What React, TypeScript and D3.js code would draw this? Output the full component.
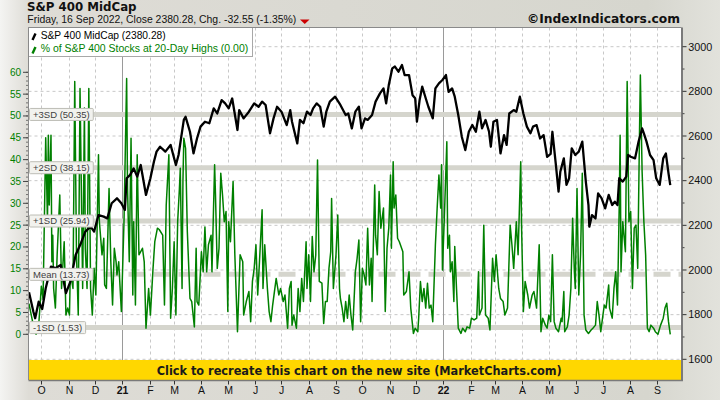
import React, { useEffect } from "react";
import * as d3 from "d3";

// S&P 400 MidCap close
const midcapClose: [string, number][] = [
  ["2020-09-17", 1900], ["2020-09-22", 1813], ["2020-09-24", 1784], ["2020-09-28", 1858], ["2020-10-02", 1825],
  ["2020-10-06", 1918], ["2020-10-12", 2015], ["2020-10-17", 2008], ["2020-10-23", 2022], ["2020-10-29", 1896],
  ["2020-11-03", 1948], ["2020-11-09", 2067], ["2020-11-15", 2120], ["2020-11-20", 2172], ["2020-11-26", 2194],
  ["2020-11-30", 2172], ["2020-12-05", 2246], ["2020-12-11", 2239], ["2020-12-15", 2231], ["2020-12-20", 2299],
  ["2020-12-26", 2321], ["2020-12-31", 2299], ["2021-01-04", 2269], ["2021-01-06", 2411], ["2021-01-10", 2426],
  ["2021-01-14", 2455], ["2021-01-18", 2418], ["2021-01-22", 2470], ["2021-01-28", 2336], ["2021-02-02", 2411],
  ["2021-02-06", 2485], ["2021-02-09", 2530], ["2021-02-13", 2552], ["2021-02-19", 2530], ["2021-02-25", 2560],
  ["2021-02-28", 2515], ["2021-03-03", 2470], ["2021-03-06", 2515], ["2021-03-12", 2672], ["2021-03-14", 2686],
  ["2021-03-19", 2619], ["2021-03-23", 2522], ["2021-03-27", 2589], ["2021-03-31", 2642], ["2021-04-05", 2664],
  ["2021-04-10", 2657], ["2021-04-15", 2724], ["2021-04-19", 2701], ["2021-04-24", 2761], ["2021-04-28", 2746],
  ["2021-05-02", 2724], ["2021-05-06", 2768], ["2021-05-12", 2627], ["2021-05-14", 2716], ["2021-05-19", 2679],
  ["2021-05-25", 2709], ["2021-05-31", 2746], ["2021-06-05", 2731], ["2021-06-09", 2754], ["2021-06-13", 2739],
  ["2021-06-18", 2612], ["2021-06-22", 2679], ["2021-06-26", 2731], ["2021-07-01", 2709], ["2021-07-07", 2649],
  ["2021-07-11", 2716], ["2021-07-13", 2664], ["2021-07-19", 2567], ["2021-07-22", 2672], ["2021-07-26", 2657],
  ["2021-07-30", 2709], ["2021-08-03", 2694], ["2021-08-06", 2724], ["2021-08-10", 2746], ["2021-08-14", 2731],
  ["2021-08-18", 2642], ["2021-08-21", 2709], ["2021-08-25", 2754], ["2021-08-31", 2776], ["2021-09-06", 2739],
  ["2021-09-12", 2694], ["2021-09-15", 2701], ["2021-09-19", 2634], ["2021-09-23", 2709], ["2021-09-27", 2731],
  ["2021-09-30", 2634], ["2021-10-04", 2679], ["2021-10-07", 2672], ["2021-10-12", 2694], ["2021-10-16", 2754],
  ["2021-10-21", 2791], ["2021-10-25", 2813], ["2021-10-28", 2746], ["2021-10-31", 2828], ["2021-11-04", 2903],
  ["2021-11-07", 2911], ["2021-11-11", 2888], ["2021-11-15", 2918], ["2021-11-18", 2873], ["2021-11-23", 2873],
  ["2021-11-27", 2783], ["2021-11-30", 2769], ["2021-12-02", 2664], ["2021-12-05", 2760], ["2021-12-08", 2821],
  ["2021-12-12", 2769], ["2021-12-15", 2731], ["2021-12-20", 2679], ["2021-12-23", 2813], ["2021-12-27", 2836],
  ["2021-12-31", 2851], ["2022-01-04", 2873], ["2022-01-07", 2798], ["2022-01-11", 2813], ["2022-01-14", 2776],
  ["2022-01-18", 2694], ["2022-01-22", 2597], ["2022-01-26", 2537], ["2022-01-30", 2619], ["2022-02-03", 2649],
  ["2022-02-07", 2619], ["2022-02-11", 2709], ["2022-02-14", 2634], ["2022-02-18", 2672], ["2022-02-22", 2619],
  ["2022-02-24", 2552], ["2022-02-27", 2664], ["2022-03-03", 2672], ["2022-03-07", 2522], ["2022-03-11", 2604],
  ["2022-03-14", 2560], ["2022-03-17", 2701], ["2022-03-22", 2716], ["2022-03-25", 2709], ["2022-03-29", 2776],
  ["2022-04-02", 2701], ["2022-04-06", 2642], ["2022-04-10", 2612], ["2022-04-13", 2642], ["2022-04-17", 2649],
  ["2022-04-21", 2589], ["2022-04-25", 2604], ["2022-04-29", 2507], ["2022-05-03", 2520], ["2022-05-05", 2619],
  ["2022-05-09", 2470], ["2022-05-12", 2351], ["2022-05-14", 2440], ["2022-05-18", 2500], ["2022-05-21", 2381],
  ["2022-05-24", 2411], ["2022-05-27", 2545], ["2022-05-31", 2515], ["2022-06-04", 2530], ["2022-06-08", 2575],
  ["2022-06-12", 2396], ["2022-06-15", 2291], ["2022-06-16", 2194], ["2022-06-19", 2246], ["2022-06-23", 2231],
  ["2022-06-26", 2343], ["2022-06-30", 2321], ["2022-07-04", 2276], ["2022-07-08", 2336], ["2022-07-12", 2291],
  ["2022-07-15", 2306], ["2022-07-18", 2291], ["2022-07-20", 2411], ["2022-07-24", 2396], ["2022-07-28", 2418],
  ["2022-07-30", 2515], ["2022-08-02", 2507], ["2022-08-07", 2500], ["2022-08-11", 2575], ["2022-08-15", 2634],
  ["2022-08-17", 2612], ["2022-08-20", 2575], ["2022-08-24", 2515], ["2022-08-28", 2492], ["2022-08-31", 2411],
  ["2022-09-04", 2381], ["2022-09-08", 2500], ["2022-09-11", 2522], ["2022-09-14", 2433], ["2022-09-16", 2380.28],
];

// % of S&P 400 stocks at 20-day highs
const pctAt20DayHighs: [string, number][] = [
  ["2020-09-17", 7], ["2020-09-20", 4], ["2020-09-23", 1], ["2020-09-25", 0], ["2020-09-28", 2], ["2020-10-01", 11],
  ["2020-10-03", 8], ["2020-10-06", 45], ["2020-10-08", 25.8], ["2020-10-09", 45.6], ["2020-10-10", 29.6],
  ["2020-10-12", 45.6], ["2020-10-13", 16.6], ["2020-10-14", 22.7], ["2020-10-15", 10.5], ["2020-10-17", 6],
  ["2020-10-19", 18.2], ["2020-10-22", 31.9], ["2020-10-24", 10.5], ["2020-10-27", 21.2], ["2020-10-29", 4.4],
  ["2020-10-31", 6], ["2020-11-02", 4.4], ["2020-11-03", 14.3], ["2020-11-06", 10.5], ["2020-11-08", 57.9],
  ["2020-11-10", 18.2], ["2020-11-12", 4.4], ["2020-11-14", 56.3], ["2020-11-16", 25.8], ["2020-11-17", 10.5],
  ["2020-11-19", 51.8], ["2020-11-20", 19.7], ["2020-11-22", 10.5], ["2020-11-24", 56.3], ["2020-11-26", 10.5],
  ["2020-11-28", 4.4], ["2020-11-30", 15.1], ["2020-12-02", 9], ["2020-12-05", 41.1], ["2020-12-06", 25.8],
  ["2020-12-09", 18.2], ["2020-12-11", 22], ["2020-12-12", 11.3], ["2020-12-14", 10.5], ["2020-12-17", 33.4],
  ["2020-12-19", 16.6], ["2020-12-21", 6.7], ["2020-12-23", 19.7], ["2020-12-25", 16.6], ["2020-12-26", 13.6],
  ["2020-12-28", 16.6], ["2020-12-31", 5.2], ["2021-01-03", 25.8], ["2021-01-06", 58.6], ["2021-01-07", 33.4],
  ["2021-01-09", 16.6], ["2021-01-11", 44.9], ["2021-01-13", 9], ["2021-01-14", 25.8], ["2021-01-16", 6.7],
  ["2021-01-18", 41.1], ["2021-01-20", 18.2], ["2021-01-24", 19.7], ["2021-01-26", 16.6], ["2021-01-28", 1.4],
  ["2021-01-31", 10.5], ["2021-02-02", 4.4], ["2021-02-05", 15.1], ["2021-02-07", 21.2], ["2021-02-10", 24.3],
  ["2021-02-12", 24], ["2021-02-16", 22.7], ["2021-02-18", 6.7], ["2021-02-20", 29.6], ["2021-02-23", 41.1],
  ["2021-02-25", 3.7], ["2021-02-27", 10.5], ["2021-03-01", 21.2], ["2021-03-03", 4.4], ["2021-03-05", 25.8],
  ["2021-03-07", 33.4], ["2021-03-08", 38], ["2021-03-10", 10.5], ["2021-03-11", 35], ["2021-03-12", 44.9],
  ["2021-03-14", 42.6], ["2021-03-16", 23.5], ["2021-03-19", 8.2], ["2021-03-21", 7.5], ["2021-03-24", 1.7],
  ["2021-03-26", 19.7], ["2021-03-27", 7.5], ["2021-03-29", 6.7], ["2021-04-01", 18.9], ["2021-04-03", 14.3],
  ["2021-04-05", 24.6], ["2021-04-07", 14.3], ["2021-04-09", 20.5], ["2021-04-12", 22.7], ["2021-04-13", 14.3],
  ["2021-04-16", 38.8], ["2021-04-17", 31.9], ["2021-04-19", 15.1], ["2021-04-21", 19.7], ["2021-04-23", 36.9],
  ["2021-04-25", 31.9], ["2021-04-27", 25.8], ["2021-04-29", 28.1], ["2021-05-01", 5.2], ["2021-05-02", 25.8],
  ["2021-05-04", 21.2], ["2021-05-07", 35], ["2021-05-09", 18.2], ["2021-05-12", 0.6], ["2021-05-15", 18.2],
  ["2021-05-18", 16.6], ["2021-05-19", 4.4], ["2021-05-22", 7.5], ["2021-05-25", 9.8], ["2021-05-27", 2.9],
  ["2021-05-29", 12.1], ["2021-05-31", 15.1], ["2021-06-02", 20.5], ["2021-06-04", 9], ["2021-06-06", 16.6],
  ["2021-06-09", 28.5], ["2021-06-10", 10.5], ["2021-06-12", 20.5], ["2021-06-15", 10.5], ["2021-06-17", 5.2],
  ["2021-06-19", 2.9], ["2021-06-21", 6.7], ["2021-06-25", 12.8], ["2021-06-28", 9], ["2021-06-30", 10.5],
  ["2021-07-03", 7.5], ["2021-07-05", 9], ["2021-07-08", 1.4], ["2021-07-10", 10.5], ["2021-07-12", 12.1],
  ["2021-07-13", 2.1], ["2021-07-15", 4.4], ["2021-07-18", 1.4], ["2021-07-20", 10.5], ["2021-07-22", 5.2],
  ["2021-07-24", 12.8], ["2021-07-26", 7.5], ["2021-07-29", 21.2], ["2021-07-30", 10.5], ["2021-08-01", 18.2],
  ["2021-08-03", 7.5], ["2021-08-05", 22.4], ["2021-08-07", 14.3], ["2021-08-09", 18.2], ["2021-08-11", 39.9],
  ["2021-08-13", 12.1], ["2021-08-16", 11.7], ["2021-08-18", 2.5], ["2021-08-20", 7.5], ["2021-08-22", 7.5],
  ["2021-08-24", 15.1], ["2021-08-26", 18.9], ["2021-08-27", 31.1], ["2021-08-29", 10.5], ["2021-09-01", 18.2],
  ["2021-09-03", 27.3], ["2021-09-05", 10.5], ["2021-09-06", 8.2], ["2021-09-08", 6], ["2021-09-10", 2.9],
  ["2021-09-12", 7.5], ["2021-09-14", 3.7], ["2021-09-16", 9], ["2021-09-18", 4.4], ["2021-09-20", 1],
  ["2021-09-23", 14.3], ["2021-09-25", 17.4], ["2021-09-27", 21.6], ["2021-09-29", 2.9], ["2021-10-01", 15.1],
  ["2021-10-03", 13.6], ["2021-10-05", 11.3], ["2021-10-07", 24.3], ["2021-10-09", 11.3], ["2021-10-11", 17.4],
  ["2021-10-12", 7.5], ["2021-10-15", 34.2], ["2021-10-16", 22.7], ["2021-10-18", 18.2], ["2021-10-20", 32.7],
  ["2021-10-22", 24.3], ["2021-10-25", 28.9], ["2021-10-27", 5.2], ["2021-10-29", 19.7], ["2021-10-31", 24.3],
  ["2021-11-02", 36.5], ["2021-11-03", 19.7], ["2021-11-05", 39.5], ["2021-11-06", 28.9], ["2021-11-08", 31.9],
  ["2021-11-10", 22], ["2021-11-12", 21.2], ["2021-11-16", 18.9], ["2021-11-17", 9], ["2021-11-20", 9.8],
  ["2021-11-23", 14.3], ["2021-11-25", 6], ["2021-11-28", 0.2], ["2021-11-30", 1.4], ["2021-12-03", 0.6],
  ["2021-12-04", 3.7], ["2021-12-06", 12.1], ["2021-12-08", 7.5], ["2021-12-10", 10.5], ["2021-12-12", 6],
  ["2021-12-14", 11.7], ["2021-12-16", 6], ["2021-12-18", 6.7], ["2021-12-20", 2.9], ["2021-12-23", 20.5],
  ["2021-12-25", 28.9], ["2021-12-27", 36.5], ["2021-12-29", 28.9], ["2021-12-30", 38.8], ["2021-12-31", 14.7],
  ["2022-01-02", 25.8], ["2022-01-05", 44.1], ["2022-01-06", 19.7], ["2022-01-08", 22.7], ["2022-01-09", 14.3],
  ["2022-01-11", 16.6], ["2022-01-13", 7.5], ["2022-01-14", 20.1], ["2022-01-16", 10.5], ["2022-01-18", 1.4],
  ["2022-01-21", 0.2], ["2022-01-23", 1.4], ["2022-01-26", 0.6], ["2022-01-28", 1.7], ["2022-01-31", 1.4],
  ["2022-02-02", 3.7], ["2022-02-05", 3.3], ["2022-02-08", 3.7], ["2022-02-10", 14.3], ["2022-02-11", 4.4],
  ["2022-02-14", 6], ["2022-02-16", 25], ["2022-02-18", 4.4], ["2022-02-21", 3.7], ["2022-02-23", 1],
  ["2022-02-26", 17.4], ["2022-02-28", 12.1], ["2022-03-02", 18.2], ["2022-03-05", 10.5], ["2022-03-07", 8.2],
  ["2022-03-10", 7.5], ["2022-03-12", 4.4], ["2022-03-15", 6], ["2022-03-18", 25], ["2022-03-20", 20.5],
  ["2022-03-22", 15.1], ["2022-03-25", 25.8], ["2022-03-27", 18.2], ["2022-03-30", 39.5], ["2022-03-31", 24.3],
  ["2022-04-02", 5.2], ["2022-04-04", 12.1], ["2022-04-07", 9], ["2022-04-09", 6], ["2022-04-12", 9],
  ["2022-04-14", 9.8], ["2022-04-17", 6], ["2022-04-20", 20.5], ["2022-04-22", 0.6], ["2022-04-24", 3.7],
  ["2022-04-27", 2.1], ["2022-04-29", 1.4], ["2022-05-01", 4.4], ["2022-05-03", 2.9], ["2022-05-05", 18.2],
  ["2022-05-07", 2.9], ["2022-05-09", 1.4], ["2022-05-12", 0.6], ["2022-05-15", 3.7], ["2022-05-16", 2.9],
  ["2022-05-18", 9.8], ["2022-05-19", 0.6], ["2022-05-22", 1.7], ["2022-05-24", 4.4], ["2022-05-26", 10.5],
  ["2022-05-28", 26.6], ["2022-05-30", 14.3], ["2022-05-31", 10.5], ["2022-06-02", 33.4], ["2022-06-04", 9],
  ["2022-06-06", 18.2], ["2022-06-08", 36.9], ["2022-06-10", 4.4], ["2022-06-12", 1], ["2022-06-15", 0.2],
  ["2022-06-18", 1], ["2022-06-20", 1.4], ["2022-06-23", 2.1], ["2022-06-25", 7.5], ["2022-06-27", 4.4],
  ["2022-06-29", 0.6], ["2022-07-01", 3.7], ["2022-07-03", 6.7], ["2022-07-05", 6], ["2022-07-08", 11.3],
  ["2022-07-09", 6], ["2022-07-12", 3.7], ["2022-07-14", 10.5], ["2022-07-16", 14.3], ["2022-07-18", 6.7],
  ["2022-07-20", 29.6], ["2022-07-21", 45.6], ["2022-07-22", 14.3], ["2022-07-24", 25.8], ["2022-07-27", 18.9],
  ["2022-07-29", 57.9], ["2022-07-31", 25.8], ["2022-08-02", 28.1], ["2022-08-04", 10.5], ["2022-08-06", 24.3],
  ["2022-08-08", 25], ["2022-08-10", 15.1], ["2022-08-12", 45.6], ["2022-08-13", 59.4], ["2022-08-15", 37.2],
  ["2022-08-17", 25.8], ["2022-08-19", 18.2], ["2022-08-21", 1.4], ["2022-08-23", 0.6], ["2022-08-25", 2.1],
  ["2022-08-28", 1.4], ["2022-08-30", 0.6], ["2022-09-02", 0], ["2022-09-05", 2.1], ["2022-09-08", 3.7],
  ["2022-09-10", 6], ["2022-09-12", 7.1], ["2022-09-14", 2.9], ["2022-09-15", 1.4], ["2022-09-16", 0],
];

const sdBands = [
  { label: "+3SD (50.35)", value: 50.35, dashed: false },
  { label: "+2SD (38.15)", value: 38.15, dashed: false },
  { label: "+1SD (25.94)", value: 25.94, dashed: false },
  { label: "Mean (13.73)", value: 13.73, dashed: true },
  { label: "-1SD (1.53)", value: 1.53, dashed: false },
];

const leftTicks = [0, 5, 10, 15, 20, 25, 30, 35, 40, 45, 50, 55, 60];
const rightTicks = [1600, 1800, 2000, 2200, 2400, 2600, 2800, 3000];
const rightMinorTicks = [1700, 1900, 2100, 2300, 2500, 2700, 2900];
const monthInitials = ["J", "F", "M", "A", "M", "J", "J", "A", "S", "O", "N", "D"];

const titleText = "S&P 400 MidCap";
const subtitleText = "Friday, 16 Sep 2022, Close 2380.28, Chg. -32.55 (-1.35%)";
const creditText = "©IndexIndicators.com";
const bannerText = "Click to recreate this chart on the new site (MarketCharts.com)";
const legendItems = [
  { text: "S&P 400 MidCap (2380.28)", color: "#000000", width: 125 },
  { text: "% of S&P 400 Stocks at 20-Day Highs (0.00)", color: "#008000", width: 207.5 },
];

const SANS = "'Liberation Sans', Arial, sans-serif";
const BOLD = "'DejaVu Sans', Verdana, sans-serif";

function measure(text: string, font: string): number {
  if (typeof document === "undefined") return text.length * 4.5;
  const c = document.createElement("canvas").getContext("2d");
  if (!c) return text.length * 4.5;
  c.font = font;
  return c.measureText(text).width;
}

export default function App() {
  useEffect(() => {
    document.body.style.margin = "0";
  }, []);

  const parse = d3.timeParse("%Y-%m-%d");
  const L = 28.5, R = 681.5, T = 27.5, B = 380;
  const x = d3
    .scaleTime()
    .domain([parse("2020-09-17")!, parse("2022-09-29")!])
    .range([29, 681.7]);
  const yL = d3.scaleLinear().domain([0, 60]).range([334.3, 72.3]);
  const yR = d3.scaleLinear().domain([1600, 3000]).range([359.3, 46.7]);

  const months = d3.timeMonth.range(d3.timeMonth.ceil(x.domain()[0]), x.domain()[1]);
  const lineR = d3
    .line<[string, number]>()
    .x((d) => x(parse(d[0])!))
    .y((d) => yR(d[1]));
  const lineL = d3
    .line<[string, number]>()
    .x((d) => x(parse(d[0])!))
    .y((d) => yL(d[1]));
  const leftMinor = d3.range(leftTicks[0], leftTicks[leftTicks.length - 1] + 1, 1);

  return (
    <svg
      width={720}
      height={400}
      style={{ position: "absolute", left: 0, top: 0, display: "block" }}
    >
      <defs>
        <linearGradient id="bgGrad" x1="0" x2="1" y1="0" y2="0">
          <stop offset="0" stopColor="#f4f4f2" />
          <stop offset="0.04" stopColor="#dedcd6" />
          <stop offset="0.9" stopColor="#d6d6ce" />
          <stop offset="1" stopColor="#e2e2dc" />
        </linearGradient>
        <clipPath id="plotClip">
          <rect x={L} y={T} width={R - L} height={B - T} />
        </clipPath>
      </defs>
      <rect x={0} y={0} width={720} height={400} fill="url(#bgGrad)" />

      {/* plot area */}
      <rect x={L} y={T} width={R - L} height={B - T} fill="#ffffff" />

      {/* horizontal grid (right axis) */}
      {rightTicks.map((v) => (
        <line key={"hg" + v} x1={L} x2={R} y1={yR(v)} y2={yR(v)} stroke="#c8c8c8" strokeDasharray="3,3" />
      ))}
      {/* vertical grid at months */}
      {months.map((m) => {
        const isYear = m.getMonth() === 0;
        return (
          <line
            key={"vg" + m.getTime()}
            x1={Math.round(x(m)) + 0.5}
            x2={Math.round(x(m)) + 0.5}
            y1={T}
            y2={B}
            stroke={isYear ? "#9a9a9a" : "#c8c8c8"}
            strokeDasharray={isYear ? undefined : "3,3"}
          />
        );
      })}

      {/* SD bands */}
      {sdBands.map((b) => (
        <line
          key={"band" + b.label}
          x1={L}
          x2={R}
          y1={yL(b.value)}
          y2={yL(b.value)}
          stroke="#d5d5cd"
          strokeWidth={5}
          strokeDasharray={b.dashed ? "17,8" : undefined}
        />
      ))}

      {/* series */}
      <g clipPath="url(#plotClip)">
        <path d={lineL(pctAt20DayHighs) || ""} fill="none" stroke="#008000" strokeWidth={1.5} strokeLinejoin="round" />
        <path d={lineR(midcapClose) || ""} fill="none" stroke="#000000" strokeWidth={2.3} strokeLinejoin="round" />
      </g>

      {/* SD labels */}
      {sdBands.map((b) => {
        const w = measure(b.label, `9.5px 'Liberation Sans'`) + 7;
        const cy = yL(b.value);
        return (
          <g key={"lab" + b.label}>
            <rect x={29.5} y={cy - 6} width={w} height={12} fill="#f2f2ee" stroke="#bdbdb5" strokeWidth={1} rx={1} />
            <text x={33} y={cy + 3.4} fontFamily={SANS} fontSize={9.5} fill="#404040">
              {b.label}
            </text>
          </g>
        );
      })}

      {/* banner */}
      <rect x={L + 0.5} y={360} width={R - L - 0.5} height={20} fill="#ffd700" />
      <text
        x={359.2}
        y={375}
        textAnchor="middle"
        fontFamily={BOLD}
        fontWeight="bold"
        fontSize={11.5}
        textLength={405}
        lengthAdjust="spacingAndGlyphs"
        fill="#1a1a1a"
      >
        {bannerText}
      </text>

      {/* legend */}
      <rect x={L} y={T} width={224} height={29} fill="#ffffff" stroke="#a8a8a8" />
      {legendItems.map((it, i) => (
        <g key={"leg" + i}>
          <line
            x1={32.5}
            y1={40 + i * 13.5}
            x2={35.5}
            y2={33.5 + i * 13.5}
            stroke={it.color}
            strokeWidth={2.4}
          />
          <text
            x={40.7}
            y={38.6 + i * 13.4}
            fontFamily={SANS}
            fontSize={10.2}
            fill={it.color}
            textLength={it.width}
            lengthAdjust="spacingAndGlyphs"
          >
            {it.text}
          </text>
        </g>
      ))}

      {/* frame */}
      <line x1={L} x2={L} y1={T} y2={B} stroke="#8a8a8a" />
      <line x1={L} x2={R} y1={T} y2={T} stroke="#8a8a8a" />
      <line x1={R + 0.5} x2={R + 0.5} y1={T} y2={B + 1} stroke="#7a7a7a" strokeWidth={2} />
      <line x1={L} x2={R + 1.5} y1={B + 0.5} y2={B + 0.5} stroke="#7a7a7a" strokeWidth={1.5} />

      {/* left axis */}
      {leftMinor.map((v) => (
        <line key={"lm" + v} x1={26} x2={28} y1={yL(v)} y2={yL(v)} stroke="#555" strokeWidth={0.8} />
      ))}
      {leftTicks.map((v) => (
        <g key={"lt" + v}>
          <line x1={23} x2={28} y1={yL(v)} y2={yL(v)} stroke="#444" />
          <text x={21} y={yL(v) + 3.4} textAnchor="end" fontFamily={SANS} fontSize={10} fill="#008000">
            {v}
          </text>
        </g>
      ))}

      {/* right axis */}
      {rightMinorTicks.map((v) => (
        <line key={"rm" + v} x1={682.5} x2={684.5} y1={yR(v)} y2={yR(v)} stroke="#444" />
      ))}
      {rightTicks.map((v) => (
        <g key={"rt" + v}>
          <line x1={682.5} x2={686.5} y1={yR(v)} y2={yR(v)} stroke="#333" />
          <text x={688.3} y={yR(v) + 3.8} fontFamily={SANS} fontSize={10.8} fill="#111">
            {v}
          </text>
        </g>
      ))}

      {/* bottom axis */}
      {months.map((m) => {
        const isYear = m.getMonth() === 0;
        const px = Math.round(x(m)) + 0.5;
        return (
          <g key={"xt" + m.getTime()}>
            <line x1={px} x2={px} y1={B + 1} y2={B + 4.5} stroke="#333" />
            <text
              x={px}
              y={393.5}
              textAnchor="middle"
              fontFamily={SANS}
              fontSize={10.5}
              fontWeight={isYear ? "bold" : "normal"}
              fill="#111"
            >
              {isYear ? d3.timeFormat("%y")(m) : monthInitials[m.getMonth()]}
            </text>
          </g>
        );
      })}

      {/* titles */}
      <text x={27} y={10.6} fontFamily={BOLD} fontWeight="bold" fontSize={11.8} fill="#111">
        {titleText}
      </text>
      <text
        x={27.3}
        y={22.8}
        fontFamily={SANS}
        fontSize={10}
        fill="#111"
        textLength={269}
        lengthAdjust="spacingAndGlyphs"
      >
        {subtitleText}
      </text>
      <path d="M300,19.5 L309.5,19.5 L304.75,24 Z" fill="#cc0000" />
      <text
        x={680}
        y={23}
        textAnchor="end"
        fontFamily={BOLD}
        fontWeight="bold"
        fontSize={12}
        fill="#111"
        textLength={153}
        lengthAdjust="spacingAndGlyphs"
      >
        {creditText}
      </text>
    </svg>
  );
}
